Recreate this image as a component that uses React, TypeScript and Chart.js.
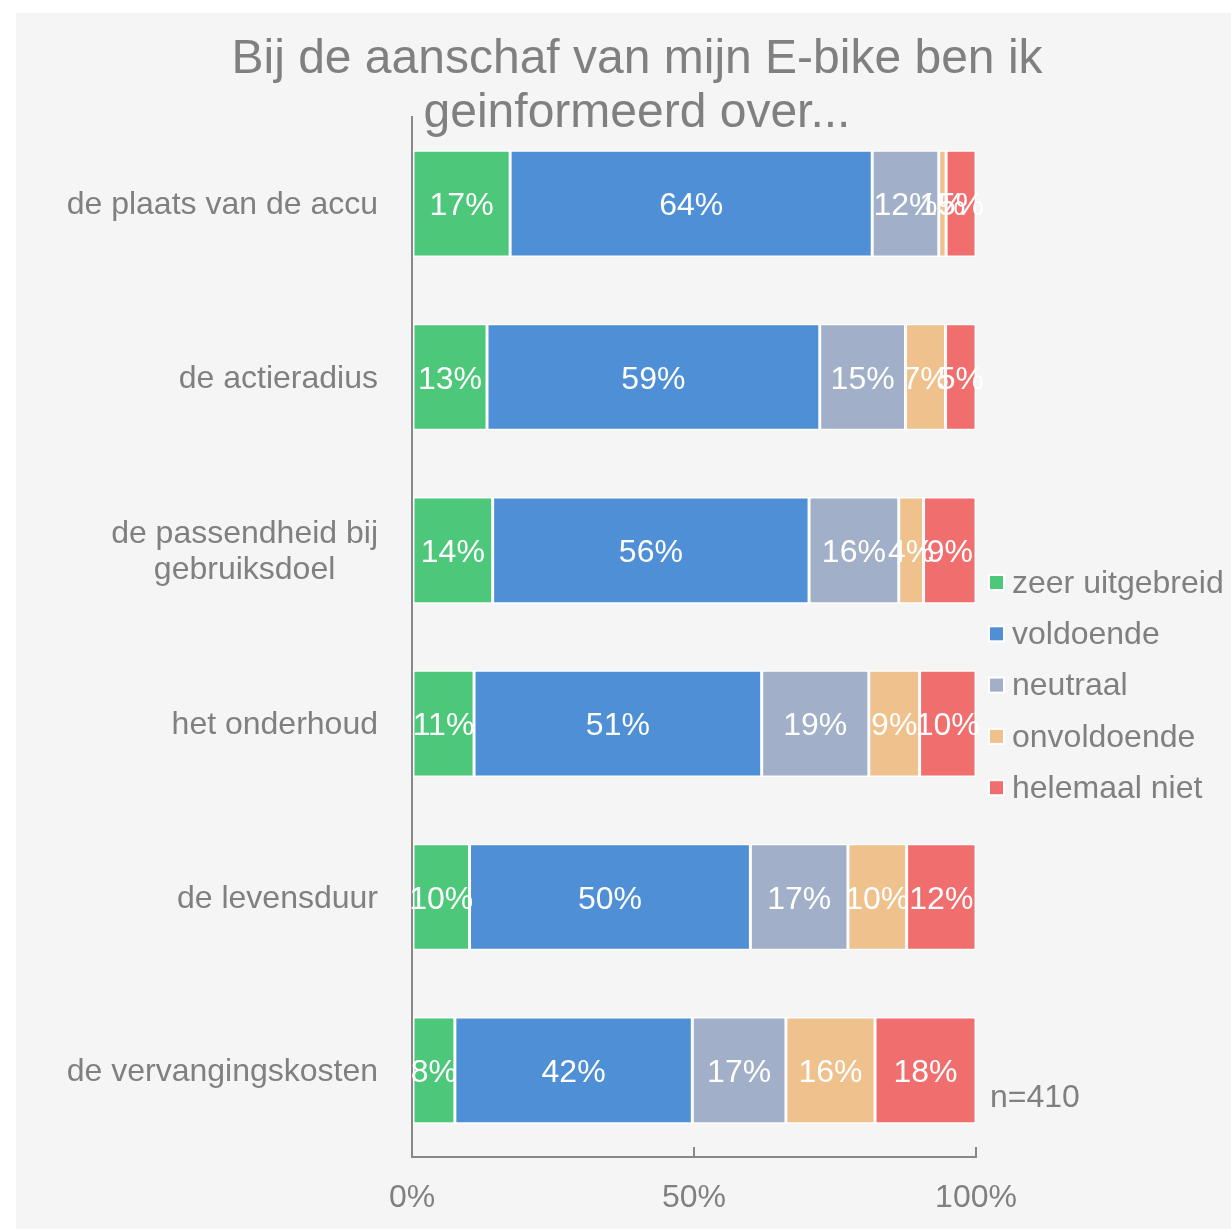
import React, { useEffect, useRef } from "react";
import { Chart, registerables } from "chart.js";

Chart.register(...registerables);

const titleLines = ["Bij de aanschaf van mijn E-bike ben ik", "geinformeerd over..."];
const categories: string[][] = [
  ["de plaats van de accu"],
  ["de actieradius"],
  ["de passendheid bij", "gebruiksdoel"],
  ["het onderhoud"],
  ["de levensduur"],
  ["de vervangingskosten"],
];
const seriesNames = ["zeer uitgebreid", "voldoende", "neutraal", "onvoldoende", "helemaal niet"];
const zeerUitgebreid = [17.4, 13.3, 14.3, 11, 10.2, 7.6];
const voldoende = [64.2, 59.0, 56.1, 51, 49.8, 42.1];
const neutraal = [11.8, 15.2, 15.9, 19, 17.3, 16.6];
const onvoldoende = [1.3, 7.1, 4.4, 9, 10.4, 15.8];
const helemaalNiet = [5.3, 5.4, 9.3, 10, 12.3, 17.9];
const xTickLabels: Record<number, string> = { 0: "0%", 50: "50%", 100: "100%" };
const noteText = "n=410";

const colors = ["#4dc77a", "#4e8fd6", "#a1afc9", "#eec18d", "#f06e6e"];
const TEXT = "#808080";
const FONT = "'Liberation Sans', Arial, sans-serif";

export default function App() {
  const ref = useRef<HTMLCanvasElement | null>(null);

  useEffect(() => {
    if (!ref.current) return;
    const values = [zeerUitgebreid, voldoende, neutraal, onvoldoende, helemaalNiet];

    const customText = {
      id: "customText",
      afterDraw(chart: any) {
        const ctx = chart.ctx;
        ctx.save();
        // title
        ctx.fillStyle = TEXT;
        ctx.font = `48px ${FONT}`;
        ctx.textAlign = "center";
        ctx.textBaseline = "alphabetic";
        ctx.fillText(titleLines[0], 621, 60);
        ctx.fillText(titleLines[1], 621, 114);

        // category labels (block centred, right edge fixed)
        const yScale = chart.scales.y;
        ctx.font = `32px ${FONT}`;
        ctx.textBaseline = "middle";
        const right = 362;
        const lh = 36;
        categories.forEach((lines, i) => {
          const cy = yScale.getPixelForValue(i) + 2;
          const widest = Math.max(...lines.map((l) => ctx.measureText(l).width));
          const cx = right - widest / 2;
          ctx.textAlign = "center";
          lines.forEach((l, j) => {
            ctx.fillText(l, cx, cy + (j - (lines.length - 1) / 2) * lh);
          });
        });

        // legend
        ctx.textAlign = "left";
        seriesNames.forEach((name, i) => {
          const cy = 570 + i * 51.3;
          ctx.fillStyle = "#ffffff";
          ctx.fillRect(972, cy - 9, 17, 17);
          ctx.fillStyle = colors[i];
          ctx.fillRect(974, cy - 7, 13, 13);
          ctx.fillStyle = TEXT;
          ctx.fillText(name, 996, cy + 1);
        });

        // note
        ctx.fillText(noteText, 974, 1085);
        ctx.restore();
      },
    };

    const dataLabels = {
      id: "dataLabels",
      afterDatasetsDraw(chart: any) {
        const ctx = chart.ctx;
        ctx.save();
        ctx.font = `32px ${FONT}`;
        ctx.fillStyle = "#ffffff";
        ctx.textAlign = "center";
        ctx.textBaseline = "middle";
        chart.data.datasets.forEach((ds: any, di: number) => {
          const meta = chart.getDatasetMeta(di);
          meta.data.forEach((el: any, i: number) => {
            const { x, y, base } = el.getProps(["x", "y", "base"], true);
            const v = ds.data[i];
            ctx.fillText(Math.round(v) + "%", (x + base) / 2, y + 3);
          });
        });
        ctx.restore();
      },
    };

    const chart = new Chart(ref.current, {
      type: "bar",
      data: {
        labels: categories.map((c) => c.join(" ")),
        datasets: seriesNames.map((name, i) => ({
          label: name,
          data: values[i],
          backgroundColor: colors[i],
          borderColor: "#ffffff",
          borderWidth: 1.5,
          borderSkipped: false,
          categoryPercentage: 1,
          barPercentage: 0.615,
        })),
      },
      options: {
        indexAxis: "y",
        animation: false,
        responsive: false,
        layout: { padding: { top: 104, right: 255, bottom: 0, left: 0 } },
        plugins: {
          legend: { display: false },
          title: { display: false },
          tooltip: { enabled: false },
        },
        scales: {
          x: {
            stacked: true,
            min: 0,
            max: 100,
            afterBuildTicks: (scale: any) => {
              scale.ticks = [{ value: 0 }, { value: 50 }, { value: 100 }];
            },
            afterFit: (scale: any) => {
              scale.height = 72;
            },
            grid: {
              display: true,
              drawOnChartArea: false,
              drawTicks: true,
              tickLength: -10,
              color: "#888888",
              lineWidth: 2,
            },
            border: { display: true, color: "#888888", width: 2 },
            ticks: {
              padding: 32,
              color: TEXT,
              font: { family: FONT, size: 32 },
              maxRotation: 0,
              callback: (v: any) => xTickLabels[v as number] ?? "",
            },
          },
          y: {
            stacked: true,
            afterFit: (scale: any) => {
              scale.width = 396;
            },
            grid: { display: true, drawOnChartArea: false, drawTicks: false, color: "#888888" },
            border: { display: true, color: "#888888", width: 2 },
            ticks: { display: false },
          },
        },
      },
      plugins: [dataLabels, customText],
    });
    return () => chart.destroy();
  }, []);

  return (
    <div
      style={{
        position: "absolute",
        left: 16,
        top: 13,
        width: 1215,
        height: 1216,
        background: "#f5f5f5",
      }}
    >
      <canvas ref={ref} width={1215} height={1216} style={{ width: 1215, height: 1216, display: "block" }} />
    </div>
  );
}
